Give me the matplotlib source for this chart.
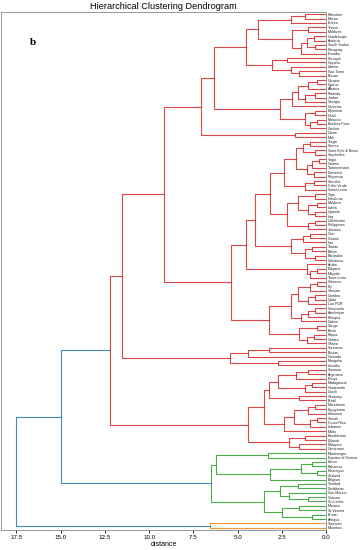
import matplotlib
matplotlib.use("Agg")
import matplotlib.pyplot as plt

# leaf order, top to bottom
leaves = [
    "Palestine", "Macao", "Eritrea", "Yemen", "Maldives", "Guadeloupe", "Andorra",
    "South Sudan", "Paraguay", "Ecuador", "Portugal", "Guyana", "Liberia", "Sao Tome",
    "Bissau", "Ukraine", "Cyprus", "Albania", "Rwanda", "Jordan", "Georgia", "Canarias",
    "Myanmar", "Chad", "Morocco", "Burkina Faso", "Zambia", "Oman", "Mali", "Tonga",
    "Samoa", "Saint Kitts & Nevis", "Seychelles", "Virgin", "Guiana", "Turkmenistan",
    "Dominica", "Polynesia", "Somalia", "Cabo Verde", "Santa Lucia", "Togo", "Honduras",
    "Moldova", "Latvia", "Uganda", "Iraq", "Uzbekistan", "Philippines", "Jamaica", "Goa",
    "Croatia", "Iran", "Taiwan", "Belize", "Barbados", "Caledonia", "Aruba", "Bulgaria",
    "Mayotte", "Timor-Leste", "Solomon", "Fiji", "Vanuatu", "Gambia", "Qatar", "Lao PDR",
    "Venezuela", "Azerbaijan", "Ethiopia", "Gabon", "Congo", "Benin", "Papua", "Guinea",
    "Ghana", "Suriname", "Bhutan", "Grenada", "Mongolia", "Lesotho", "Slovenia",
    "Argentina", "Kenya", "Madagascar", "Guatemala", "Czech", "Germany", "Brazil",
    "Macedonia", "Kyrgyzstan", "Lithuania", "Slovak", "Costa Rica", "Lebanon", "Malta",
    "Kazakhstan", "Djibouti", "Malaysia", "Cameroon", "Montenegro", "Equatorial Guinea",
    "Korea", "Bahamas", "Nicaragua", "Zealand", "Belgium", "Trinidad", "Caribbean",
    "San Marino", "Vietnam", "Sri Lanka", "Monaco", "St Vincent", "Brunei", "Antigua",
    "Tanzania", "Mauritius",
]

# merges: (new node, child a, child b, distance)
merges = [
    ("r1", "Palestine", "Macao", 1.2),
    ("r2", "r1", "Eritrea", 2.0),
    ("r3", "Yemen", "Maldives", 1.0),
    ("r4", "Guadeloupe", "Andorra", 0.7),
    ("r5", "South Sudan", "Paraguay", 0.6),
    ("r6", "r4", "r5", 1.1),
    ("r7", "r6", "Ecuador", 1.4),
    ("r8", "r3", "r7", 1.9),
    ("r9", "r2", "r8", 3.86),
    ("r10", "Portugal", "Guyana", 2.2),
    ("r11", "Sao Tome", "Bissau", 1.5),
    ("r12", "Liberia", "r11", 2.0),
    ("r13", "r10", "r12", 3.07),
    ("r14", "r9", "r13", 4.5),
    ("r15", "Ukraine", "Cyprus", 0.5),
    ("r16", "r15", "Albania", 1.0),
    ("r17", "Rwanda", "Jordan", 0.6),
    ("r18", "r17", "Georgia", 1.2),
    ("r19", "r16", "r18", 1.6),
    ("r20", "r19", "Canarias", 1.93),
    ("r21", "Myanmar", "Chad", 0.6),
    ("r22", "Morocco", "Burkina Faso", 0.5),
    ("r23", "r22", "Zambia", 0.9),
    ("r24", "r21", "r23", 1.2),
    ("r25", "r20", "r24", 2.6),
    ("r26", "r14", "r25", 6.31),
    ("r27", "Oman", "Mali", 1.74),
    ("r28", "r26", "r27", 7.08),
    ("r29", "Tonga", "Samoa", 0.9),
    ("r30", "Saint Kitts & Nevis", "Seychelles", 0.6),
    ("r31", "r29", "r30", 1.3),
    ("r32", "Virgin", "Guiana", 0.4),
    ("r33", "r32", "Turkmenistan", 0.8),
    ("r34", "Dominica", "Polynesia", 0.7),
    ("r35", "r33", "r34", 1.1),
    ("r36", "r31", "r35", 1.7),
    ("r37", "Somalia", "Cabo Verde", 0.7),
    ("r38", "r37", "Santa Lucia", 1.2),
    ("r39", "r36", "r38", 2.35),
    ("r40", "Togo", "Honduras", 0.6),
    ("r41", "Moldova", "Latvia", 0.5),
    ("r42", "Uganda", "Iraq", 0.6),
    ("r43", "r41", "r42", 1.0),
    ("r44", "r40", "r43", 1.6),
    ("r45", "Uzbekistan", "Philippines", 0.6),
    ("r46", "r45", "Jamaica", 1.0),
    ("r47", "r44", "r46", 2.2),
    ("r48", "r39", "r47", 3.17),
    ("r49", "Goa", "Croatia", 0.9),
    ("r50", "r49", "Iran", 1.3),
    ("r51", "Taiwan", "Belize", 0.8),
    ("r52", "Barbados", "Caledonia", 0.6),
    ("r53", "r51", "r52", 1.2),
    ("r54", "r50", "r53", 2.0),
    ("r55", "r48", "r54", 4.0),
    ("r56", "Bulgaria", "Mayotte", 0.5),
    ("r57", "r56", "Timor-Leste", 0.9),
    ("r58", "Aruba", "r57", 1.1),
    ("r59", "r55", "r58", 4.5),
    ("r60", "Solomon", "Fiji", 0.5),
    ("r61", "r60", "Vanuatu", 0.9),
    ("r62", "Gambia", "Qatar", 0.6),
    ("r63", "r62", "Lao PDR", 1.0),
    ("r64", "r61", "r63", 1.6),
    ("r65", "Venezuela", "Azerbaijan", 0.6),
    ("r66", "r65", "Ethiopia", 1.0),
    ("r67", "r66", "Gabon", 1.4),
    ("r68", "r64", "r67", 2.0),
    ("r69", "Congo", "Benin", 0.5),
    ("r70", "Papua", "Guinea", 0.7),
    ("r71", "r70", "Ghana", 1.1),
    ("r72", "r69", "r71", 1.5),
    ("r73", "r68", "r72", 3.2),
    ("r74", "r59", "r73", 5.35),
    ("r75", "r28", "r74", 9.18),
    ("r76", "Suriname", "Bhutan", 3.2),
    ("r77", "r76", "Grenada", 4.43),
    ("r78", "Mongolia", "Lesotho", 2.7),
    ("r79", "r77", "r78", 5.44),
    ("r80", "r75", "r79", 11.53),
    ("r81", "Slovenia", "Argentina", 1.0),
    ("r82", "r81", "Kenya", 1.7),
    ("r83", "Madagascar", "Guatemala", 0.8),
    ("r84", "r83", "Czech", 1.2),
    ("r85", "r82", "r84", 2.7),
    ("r86", "Germany", "Brazil", 1.5),
    ("r87", "r85", "r86", 3.2),
    ("r88", "Macedonia", "Kyrgyzstan", 0.6),
    ("r89", "r88", "Lithuania", 1.0),
    ("r90", "Slovak", "Costa Rica", 0.5),
    ("r91", "r90", "Lebanon", 0.9),
    ("r92", "r89", "r91", 1.8),
    ("r93", "r92", "Malta", 2.4),
    ("r94", "r87", "r93", 3.5),
    ("r95", "Kazakhstan", "Djibouti", 1.2),
    ("r96", "Malaysia", "Cameroon", 1.5),
    ("r97", "r95", "r96", 2.1),
    ("r98", "r94", "r97", 4.43),
    ("R", "r80", "r98", 12.24),
    ("g1", "Montenegro", "Equatorial Guinea", 3.26),
    ("g2", "Korea", "Bahamas", 0.8),
    ("g3", "Nicaragua", "Zealand", 0.5),
    ("g4", "g2", "g3", 1.4),
    ("g5", "g4", "Belgium", 3.16),
    ("g6", "g1", "g5", 6.23),
    ("g7", "Trinidad", "Caribbean", 1.6),
    ("g8", "Vietnam", "Sri Lanka", 1.0),
    ("g9", "San Marino", "g8", 2.1),
    ("g10", "g7", "g9", 2.6),
    ("g11", "Monaco", "St Vincent", 1.5),
    ("g12", "Brunei", "Antigua", 0.8),
    ("g13", "g11", "g12", 2.5),
    ("g14", "g10", "g13", 3.49),
    ("G", "g6", "g14", 6.48),
    ("O", "Tanzania", "Mauritius", 6.57),
    ("B", "R", "G", 15.0),
    ("root", "B", "O", 17.5),
]

kids = {m[0]: (m[1], m[2]) for m in merges}
dist = {m[0]: m[3] for m in merges}
max_d = max(dist.values())
thr = 0.7 * max_d
n = len(leaves)

# positions like scipy: leaf i at 5 + 10 i
ypos = {name: 5 + 10 * i for i, name in enumerate(leaves)}
hpos = {name: 0.0 for name in leaves}
for node, a, b, d in merges:
    ypos[node] = (ypos[a] + ypos[b]) / 2
    hpos[node] = d

# colour each cluster that sits under the threshold (scipy order: from the bottom leaf up)
palette = ["tab:orange", "tab:green", "tab:red", "tab:purple", "tab:brown"]
def first_leaf(nd):
    while nd in kids:
        nd = kids[nd][1]
    return leaves.index(nd)

clusters = []
def find(nd):
    if nd not in kids:
        return
    if dist[nd] < thr:
        clusters.append(nd)
    else:
        find(kids[nd][0]); find(kids[nd][1])
find("root")
clusters.sort(key=first_leaf, reverse=True)
node_col = {}
def paint(nd, c):
    if nd in kids:
        node_col[nd] = c
        paint(kids[nd][0], c); paint(kids[nd][1], c)
for i, c in enumerate(clusters):
    paint(c, palette[i])

fig = plt.figure(figsize=(3.61, 5.5), dpi=100)
ax = fig.add_axes([1 / 361, 20 / 550, 325 / 361, 518 / 550])

for node, a, b, d in merges:
    col = node_col.get(node, "tab:blue")
    ax.plot([hpos[a], d, d, hpos[b]], [ypos[a], ypos[a], ypos[b], ypos[b]],
            color=col, lw=0.8, alpha=0.85)

ax.set_xlim(max_d * 1.05, 0)
ax.set_ylim(10 * n, 0)
ax.set_yticks([5 + 10 * i for i in range(n)])
ax.set_yticklabels(leaves, fontsize=2.6, family="Liberation Sans", color="#222222")
ax.yaxis.tick_right()
ax.tick_params(axis="y", length=0, pad=1.5)
ax.set_xticks([17.5, 15.0, 12.5, 10.0, 7.5, 5.0, 2.5, 0.0])
ax.tick_params(axis="x", labelsize=4.5, length=2, width=0.6, pad=1.5)
for lab in ax.get_xticklabels():
    lab.set_family("Liberation Sans")
for sp in ax.spines.values():
    sp.set_linewidth(0.6)
    sp.set_color("#888888")
ax.set_xlabel("distance", fontsize=5, family="Liberation Sans", labelpad=1)
ax.set_title("Hierarchical Clustering Dendrogram", fontsize=6.6, family="Liberation Sans", pad=2)
fig.text(30 / 361, 1 - 45 / 550, "b", fontsize=8, fontweight="bold", family="Liberation Serif")

fig.savefig("out.png", dpi=100)
